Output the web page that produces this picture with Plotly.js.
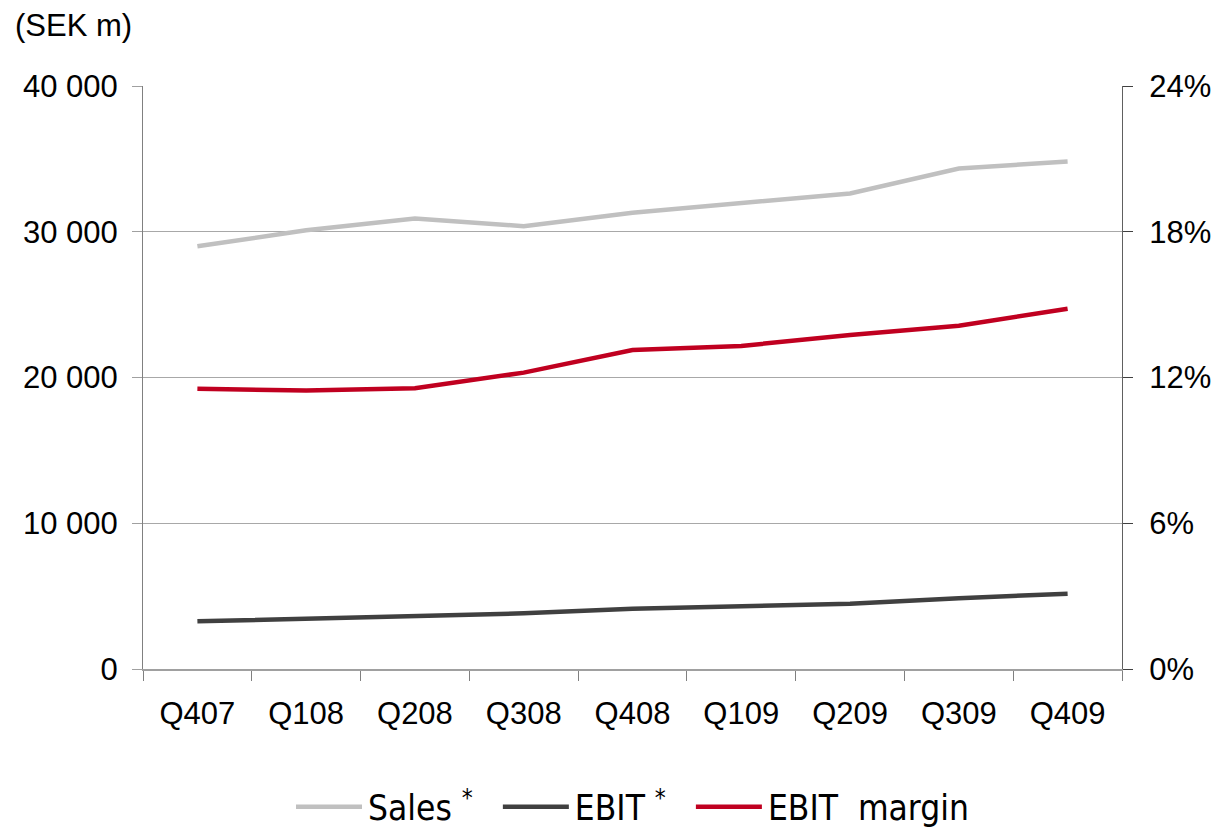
<!DOCTYPE html>
<html>
<head>
<meta charset="utf-8">
<script src="https://cdn.plot.ly/plotly-3.0.1.min.js"></script>
<style>
html,body{margin:0;padding:0;background:#fff;}
#chart{width:1217px;height:829px;}
</style>
</head>
<body>
<div id="chart"></div>
<script>
const quarters = ["Q407","Q108","Q208","Q308","Q408","Q109","Q209","Q309","Q409"];
const sales = [29000, 30100, 30900, 30380, 31300, 31980, 32630, 34340, 34820];
const ebit = [3270, 3450, 3630, 3820, 4140, 4300, 4480, 4850, 5170];
const ebitMargin = [0.1154, 0.1146, 0.1156, 0.1220, 0.1313, 0.1330, 0.1375, 0.1413, 0.1483];
const leftTicks = [0, 10000, 20000, 30000, 40000];
const rightTicks = [0, 0.06, 0.12, 0.18, 0.24];

const FONT = "Liberation Sans, Arial, sans-serif";
const LEGFONT = "DejaVu Sans Condensed, Liberation Sans Narrow, Arial Narrow, sans-serif";
const traces = [
  {x: quarters, y: sales, name: "Sales <sup>*</sup>\u00a0\u00a0", type: "scatter", mode: "lines",
   line: {color: "#c0c0c0", width: 4.5}, yaxis: "y"},
  {x: quarters, y: ebit, name: "EBIT <sup>*</sup>\u00a0\u00a0", type: "scatter", mode: "lines",
   line: {color: "#404040", width: 4.5}, yaxis: "y"},
  {x: quarters, y: ebitMargin, name: "EBIT  margin", type: "scatter", mode: "lines",
   line: {color: "#c00020", width: 4.5}, yaxis: "y2"}
];
const layout = {
  width: 1217, height: 829,
  margin: {l: 143, r: 95, t: 86, b: 160, autoexpand: false},
  paper_bgcolor: "#fff", plot_bgcolor: "#fff",
  separators: ". ",
  font: {family: FONT, size: 31, color: "#000"},
  showlegend: true,
  legend: {orientation: "h", x: 0.5, xanchor: "center", y: -0.186, yanchor: "top",
           font: {family: LEGFONT, size: 35}, itemwidth: 67, tracegroupgap: 0},
  xaxis: {type: "category", range: [-0.5, 8.5], tickson: "boundaries",
          ticks: "outside", ticklen: 10, tickcolor: "#808080", tickwidth: 1,
          showline: true, linecolor: "#a0a0a0", linewidth: 2, showgrid: false,
          zeroline: false, fixedrange: true, tickfont: {size: 31}, ticklabelstandoff: 16},
  yaxis: {range: [0, 40000], tickvals: leftTicks, tickformat: ",d",
          ticks: "outside", ticklen: 10, tickcolor: "#a0a0a0",
          showline: true, linecolor: "#808080", linewidth: 1,
          showgrid: true, gridcolor: "#a8a8a8", gridwidth: 1, zeroline: false,
          tickfont: {size: 31}, ticklabelstandoff: 8},
  yaxis2: {range: [0, 0.24], tickvals: rightTicks, tickformat: ".0%",
           overlaying: "y", side: "right", anchor: "x",
           ticks: "outside", ticklen: 10, tickcolor: "#404040",
           showline: true, linecolor: "#606060", linewidth: 1,
           showgrid: false, zeroline: false, tickfont: {size: 31}, ticklabelstandoff: 10},
  yaxis3: {range: [0, 0.24], tickvals: rightTicks, overlaying: "y", side: "right", anchor: "x",
           ticks: "inside", ticklen: 9, tickcolor: "#404040", showticklabels: false,
           showline: false, showgrid: false, zeroline: false},
  annotations: [
    {text: "(SEK m)", xref: "paper", yref: "paper", x: -0.133, y: 1.103,
     xanchor: "left", yanchor: "middle", showarrow: false,
     font: {family: FONT, size: 31, color: "#000"}}
  ]
};
Plotly.newPlot("chart", traces, layout, {displayModeBar: false, staticPlot: true}).then(function (gd) {
  gd.querySelectorAll(".legendlines path").forEach(function (p) { p.setAttribute("d", "M5,0h66"); });
});
</script>
</body>
</html>
